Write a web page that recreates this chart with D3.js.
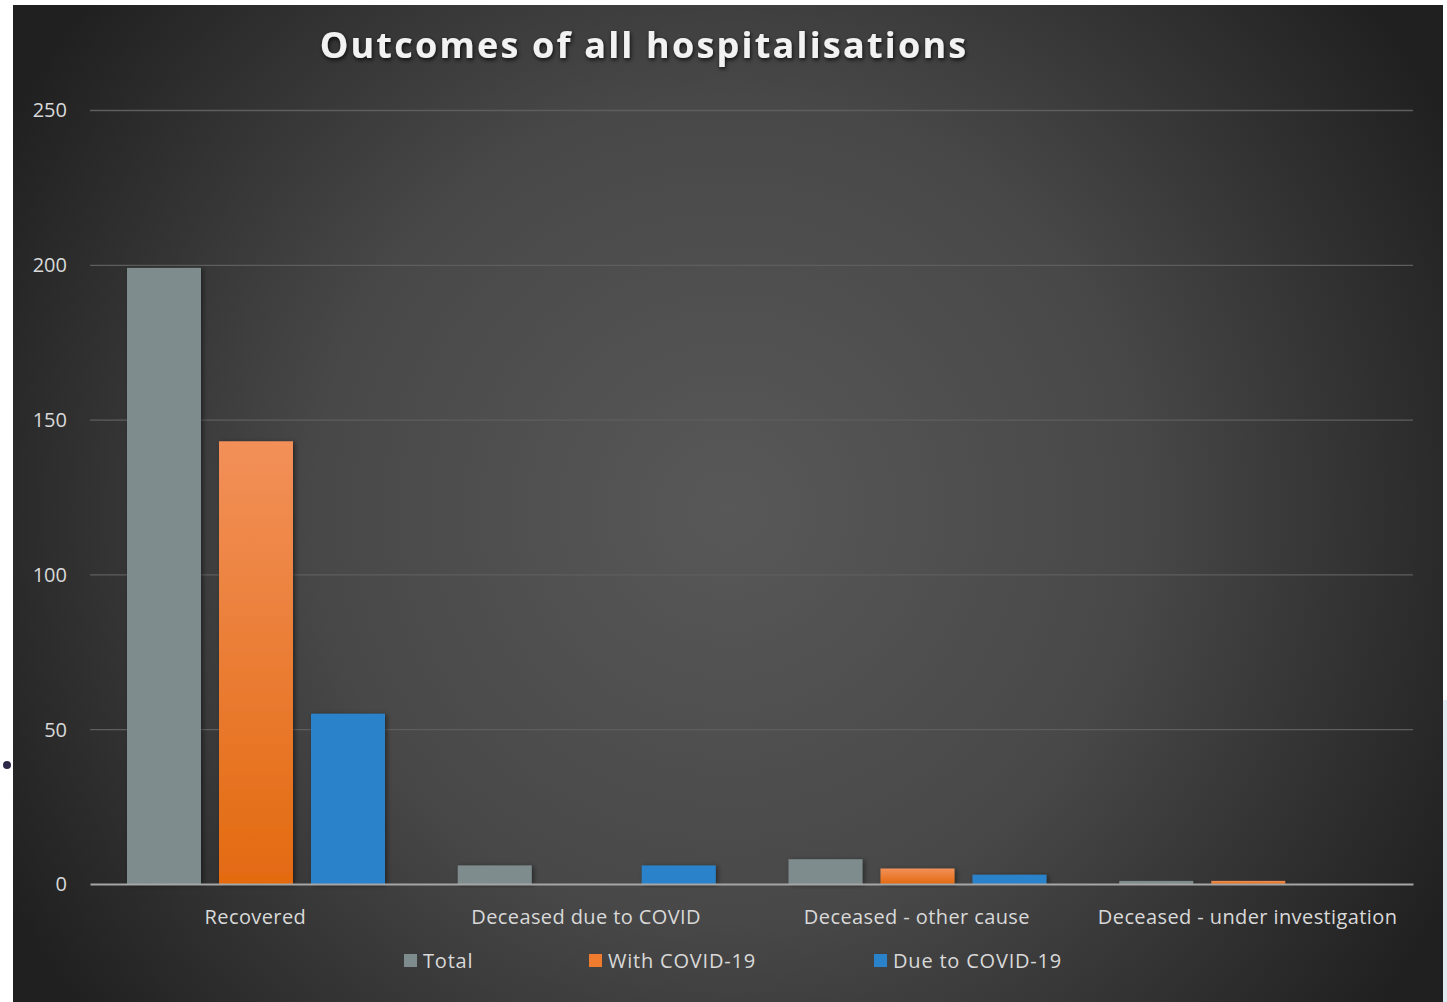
<!DOCTYPE html>
<html><head><meta charset="utf-8">
<script src="https://cdn.jsdelivr.net/npm/d3@7"></script>
<style>html,body{margin:0;padding:0;background:#fff;}svg{display:block;}</style>
</head><body>
<script>
const categories = ["Recovered", "Deceased due to COVID", "Deceased - other cause", "Deceased - under investigation"];
const seriesNames = ["Total", "With COVID-19", "Due to COVID-19"];
const totalValues = [199, 6, 8, 1];
const withCovidValues = [143, 0, 5, 1];
const dueToCovidValues = [55, 6, 3, 0];
const yTicks = [0, 50, 100, 150, 200, 250];
const titleText = "Outcomes of all hospitalisations";

const W = 1447, H = 1002;
const svg = d3.select("body").append("svg").attr("width", W).attr("height", H);
const defs = svg.append("defs");

const rg = defs.append("radialGradient").attr("id", "bg").attr("gradientUnits", "userSpaceOnUse")
  .attr("cx", 728).attr("cy", 510).attr("r", 820);
rg.append("stop").attr("offset", "0").attr("stop-color", "#585858");
rg.append("stop").attr("offset", "0.5").attr("stop-color", "#484848");
rg.append("stop").attr("offset", "1").attr("stop-color", "#202020");

const og = defs.append("linearGradient").attr("id", "orange").attr("x1", 0).attr("y1", 0).attr("x2", 0).attr("y2", 1);
og.append("stop").attr("offset", "0").attr("stop-color", "#f29059");
og.append("stop").attr("offset", "1").attr("stop-color", "#e36a10");

const sh = defs.append("filter").attr("id", "shadow").attr("x", "-20%").attr("y", "-20%").attr("width", "140%").attr("height", "140%");
sh.append("feDropShadow").attr("dx", 2).attr("dy", 1).attr("stdDeviation", 2.5).attr("flood-color", "#000").attr("flood-opacity", 0.45);
const tsh = defs.append("filter").attr("id", "tshadow").attr("x", "-10%").attr("y", "-30%").attr("width", "120%").attr("height", "160%");
tsh.append("feDropShadow").attr("dx", 1).attr("dy", 2).attr("stdDeviation", 2).attr("flood-color", "#000").attr("flood-opacity", 0.8);

svg.append("rect").attr("x", 13).attr("y", 5).attr("width", 1430).attr("height", 997).attr("fill", "url(#bg)");
svg.append("rect").attr("x", 1443).attr("y", 700).attr("width", 4).attr("height", 302).attr("fill", "#e2eaf1");
svg.append("circle").attr("cx", 7).attr("cy", 765).attr("r", 4).attr("fill", "#2b2947");

const y = d3.scaleLinear().domain([0, 250]).range([884, 110]);
const x0 = d3.scaleBand().domain(categories).range([90, 1413]).padding(0);
const x1 = d3.scaleBand().domain(seriesNames).range([37, 37 + 258]).paddingInner(18 / 92).paddingOuter(0);
const colors = {"Total": "#7f8c8d", "With COVID-19": "url(#orange)", "Due to COVID-19": "#2a82ca"};
const legendColors = {"Total": "#7f8c8d", "With COVID-19": "#ee7b2e", "Due to COVID-19": "#2a82ca"};
const seriesValues = {"Total": totalValues, "With COVID-19": withCovidValues, "Due to COVID-19": dueToCovidValues};

// gridlines
const grid = svg.append("g")
  .call(d3.axisLeft(y).tickValues(yTicks.filter(d => d > 0)).tickSize(-(1413 - 90)).tickFormat(""))
  .attr("transform", "translate(90,0)");
grid.select(".domain").remove();
grid.selectAll(".tick line").attr("stroke", "#5e5e5e").attr("stroke-width", 1.3);

// y tick labels
const yl = svg.append("g").attr("transform", "translate(67,0)")
  .call(d3.axisLeft(y).tickValues(yTicks).tickSize(0).tickPadding(0));
yl.select(".domain").remove();
yl.selectAll("text").attr("fill", "#d9d9d9").attr("font-family", "'Open Sans', sans-serif").attr("font-size", 20).attr("dy", "0.34em");

// bars
const groups = svg.append("g").selectAll("g").data(categories).join("g")
  .attr("transform", d => `translate(${x0(d)},0)`);
groups.selectAll("rect").data((c, i) => seriesNames.map(s => ({s, v: seriesValues[s][i]})))
  .join("rect")
  .filter(d => d.v > 0)
  .attr("x", d => x1(d.s))
  .attr("width", x1.bandwidth())
  .attr("y", d => y(d.v))
  .attr("height", d => y(0) - y(d.v))
  .attr("fill", d => colors[d.s])
  .attr("filter", "url(#shadow)");

// baseline axis
const xa = svg.append("g").attr("transform", "translate(0,884)")
  .call(d3.axisBottom(x0).tickSize(0).tickPadding(26));
xa.select(".domain").attr("stroke", "#a6a6a6").attr("stroke-width", 2.2);
xa.selectAll("text").attr("fill", "#d9d9d9").attr("font-family", "'Open Sans', sans-serif").attr("font-size", 20).attr("letter-spacing", "0.4px");

// title
svg.append("text").attr("x", 644).attr("y", 58).attr("text-anchor", "middle")
  .attr("fill", "#f2f2f2").attr("font-family", "'Open Sans', sans-serif").attr("font-weight", 700)
  .attr("font-size", 36).attr("letter-spacing", "2.2px").attr("filter", "url(#tshadow)").text(titleText);

// legend
const legendPos = [404, 589, 874];
const lg = svg.append("g").selectAll("g").data(seriesNames).join("g")
  .attr("transform", (d, i) => `translate(${legendPos[i]},954)`);
lg.append("rect").attr("width", 13).attr("height", 13).attr("fill", d => legendColors[d]);
lg.append("text").attr("x", 19).attr("y", 7).attr("dy", "0.35em").attr("fill", "#d9d9d9")
  .attr("font-family", "'Open Sans', sans-serif").attr("font-size", 20).attr("letter-spacing", "0.8px").text(d => d);
</script>
</body></html>
